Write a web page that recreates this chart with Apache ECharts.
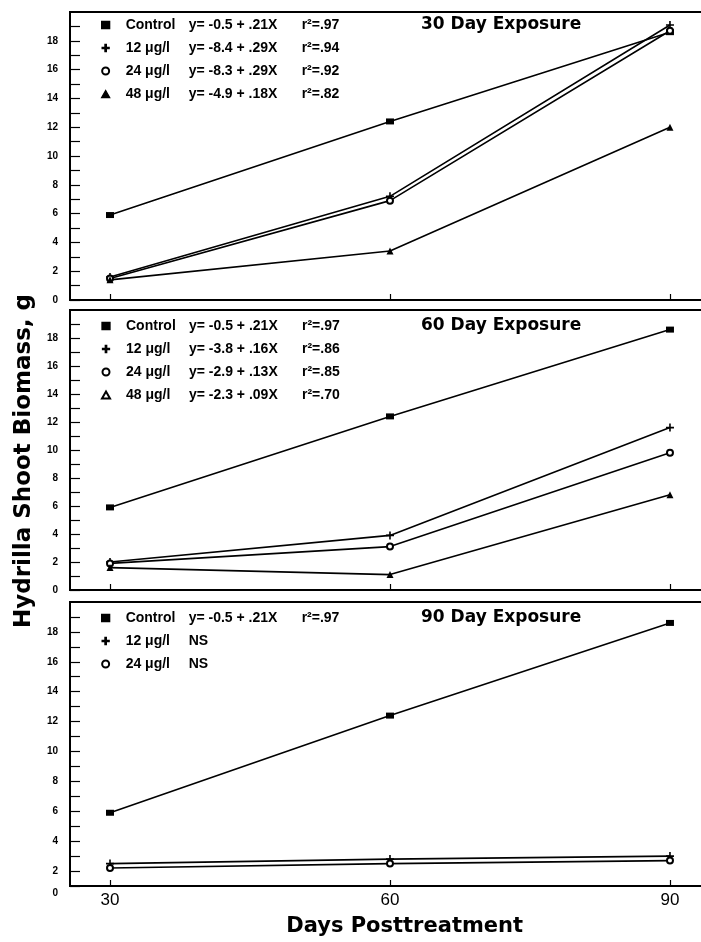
<!DOCTYPE html>
<html><head><meta charset="utf-8">
<script src="https://cdn.jsdelivr.net/npm/echarts@6/dist/echarts.min.js"></script>
<style>html,body{margin:0;padding:0;background:#fff}#c{width:701px;height:942px}</style>
</head><body><div id="c"></div>
<script>
// ---- data ----
const days = [30, 60, 90];
const groups = ['Control', '12 μg/l', '24 μg/l', '48 μg/l'];
const panelTitles = ['30 Day Exposure', '60 Day Exposure', '90 Day Exposure'];

// 30 Day Exposure
const p1Control = [5.9, 12.4, 18.6];
const p1Conc12 = [1.6, 7.2, 19.1];
const p1Conc24 = [1.5, 6.9, 18.7];
const p1Conc48 = [1.4, 3.4, 12.0];
const p1Eq = ['y= -0.5 + .21X', 'y= -8.4 + .29X', 'y= -8.3 + .29X', 'y= -4.9 + .18X'];
const p1R2 = ['r²=.97', 'r²=.94', 'r²=.92', 'r²=.82'];

// 60 Day Exposure
const p2Control = [5.9, 12.4, 18.6];
const p2Conc12 = [2.0, 3.9, 11.6];
const p2Conc24 = [1.9, 3.1, 9.8];
const p2Conc48 = [1.6, 1.1, 6.8];
const p2Eq = ['y= -0.5 + .21X', 'y= -3.8 + .16X', 'y= -2.9 + .13X', 'y= -2.3 + .09X'];
const p2R2 = ['r²=.97', 'r²=.86', 'r²=.85', 'r²=.70'];

// 90 Day Exposure
const p3Control = [5.9, 12.4, 18.6];
const p3Conc12 = [2.5, 2.8, 3.0];
const p3Conc24 = [2.2, 2.5, 2.7];
const p3Eq = ['y= -0.5 + .21X', 'NS', 'NS'];
const p3R2 = ['r²=.97', '', ''];

const xName = 'Days Posttreatment';
const yName = 'Hydrilla Shoot Biomass, g';

// ---- build ----
const panels = [
  { values: [p1Control, p1Conc12, p1Conc24, p1Conc48], eq: p1Eq, r2: p1R2, triIcon: 'triangle' },
  { values: [p2Control, p2Conc12, p2Conc24, p2Conc48], eq: p2Eq, r2: p2R2, triIcon: 'emptyTriangle' },
  { values: [p3Control, p3Conc12, p3Conc24], eq: p3Eq, r2: p3R2, triIcon: 'emptyTriangle' }
];
const gridPos = [
  { top: 12, height: 288 },
  { top: 310, height: 280 },
  { top: 602, height: 284 }
];
const yMins = [0, 0, 1];
const legendTops = [17.5, 318.5, 610.5];
const titleTops = [15, 316, 608];

const plusPath = 'path://M4,0h2v4h4v2h-4v4h-2v-4h-4v-2h4z';
const seriesSymbol = ['rect', plusPath, 'emptyCircle', 'triangle'];
const seriesSymbolSize = [[8, 6], 8, 6, 7];

const BLACK = '#000';
const grid = [], xAxis = [], yAxis = [], series = [], legend = [], title = [];

panels.forEach((p, i) => {
  grid.push({ left: 70, width: 637.3, top: gridPos[i].top, height: gridPos[i].height,
    outerBoundsMode: 'none', containLabel: false,
    show: true, borderColor: BLACK, borderWidth: 2, backgroundColor: 'transparent' });
  xAxis.push({
    gridIndex: i, type: 'value', min: 25.714, max: 94,
    axisLine: { show: true, lineStyle: { color: BLACK, width: 1.5 } },
    axisTick: { show: true, inside: true, length: 6, customValues: days, lineStyle: { color: BLACK, width: 1.2 } },
    axisLabel: { show: i === 2, customValues: days, fontSize: 17, color: BLACK, margin: 6, fontFamily: 'Liberation Sans' },
    splitLine: { show: false },
    name: i === 2 ? xName : '', nameLocation: 'middle', nameGap: 30,
    nameTextStyle: { fontFamily: 'DejaVu Sans', fontWeight: 'bold', fontSize: 21, color: BLACK, padding: [0, 0, 0, 32] }
  });
  yAxis.push({
    gridIndex: i, type: 'value', min: yMins[i], max: 20, interval: 1,
    axisLine: { show: true, lineStyle: { color: BLACK, width: 1.5 } },
    axisTick: { show: true, inside: true, length: 10, lineStyle: { color: BLACK, width: 1.2 } },
    splitLine: { show: false },
    axisLabel: {
      margin: 12, fontSize: 10, fontWeight: 'bold', color: BLACK, fontFamily: 'Liberation Sans',
      showMaxLabel: false,
      formatter: v => {
        if (i === 2 && v === 1) return '{z|0}';
        return (v % 2 === 0 && v < 20) ? String(v) : '';
      },
      rich: { z: { fontSize: 10, fontWeight: 'bold', fontFamily: 'Liberation Sans', color: BLACK, padding: [14, 0, 0, 0] } }
    },
    name: i === 1 ? yName : '', nameLocation: 'middle', nameGap: 34, nameRotate: 90,
    nameTextStyle: { fontFamily: 'DejaVu Sans', fontWeight: 'bold', fontSize: 23, color: BLACK, padding: [0, 22, 0, 0] }
  });
  p.values.forEach((vals, g) => {
    series.push({
      type: 'line', name: groups[g], xAxisIndex: i, yAxisIndex: i,
      data: days.map((d, k) => [d, vals[k]]),
      symbol: seriesSymbol[g], symbolSize: seriesSymbolSize[g],
      lineStyle: { color: BLACK, width: 1.6 },
      itemStyle: { color: BLACK, borderColor: BLACK, borderWidth: g === 2 ? 1.5 : 0 },
      emphasis: { disabled: true }, animation: false, clip: false
    });
  });
  const names = groups.slice(0, p.values.length);
  const icons = ['rect', plusPath, 'emptyCircle', p.triIcon];
  legend.push({
    orient: 'vertical', left: 101, top: legendTops[i], padding: 0,
    itemWidth: 8, itemHeight: 7, itemGap: 8, selectedMode: false,
    data: names.map((n, g) => ({ name: n, icon: icons[g] })),
    itemStyle: { borderWidth: 1.3 },
    formatter: name => {
      const g = names.indexOf(name);
      return '{s| }{n|' + name + '}{e|' + p.eq[g] + '}' + (p.r2[g] ? '{r|' + p.r2[g] + '}' : '');
    },
    textStyle: {
      color: BLACK, fontFamily: 'Liberation Sans', fontWeight: 'bold', fontSize: 14, lineHeight: 15,
      rich: {
        s: { width: 11, fontSize: 14, lineHeight: 15 },
        n: { width: 63, fontSize: 14, fontWeight: 'bold', fontFamily: 'Liberation Sans', color: BLACK, lineHeight: 15 },
        e: { width: 113, fontSize: 14, fontWeight: 'bold', fontFamily: 'Liberation Sans', color: BLACK, lineHeight: 15 },
        r: { fontSize: 14, fontWeight: 'bold', fontFamily: 'Liberation Sans', color: BLACK, lineHeight: 15 }
      }
    }
  });
  title.push({ text: panelTitles[i], left: 421, top: titleTops[i], padding: 0,
    textStyle: { fontFamily: 'DejaVu Sans', fontWeight: 'bold', fontSize: 17, color: BLACK, lineHeight: 20 } });
});

const chart = echarts.init(document.getElementById('c'), null, { renderer: 'canvas' });
chart.setOption({ animation: false, backgroundColor: '#fff', title, grid, xAxis, yAxis, legend, series });
</script></body></html>
